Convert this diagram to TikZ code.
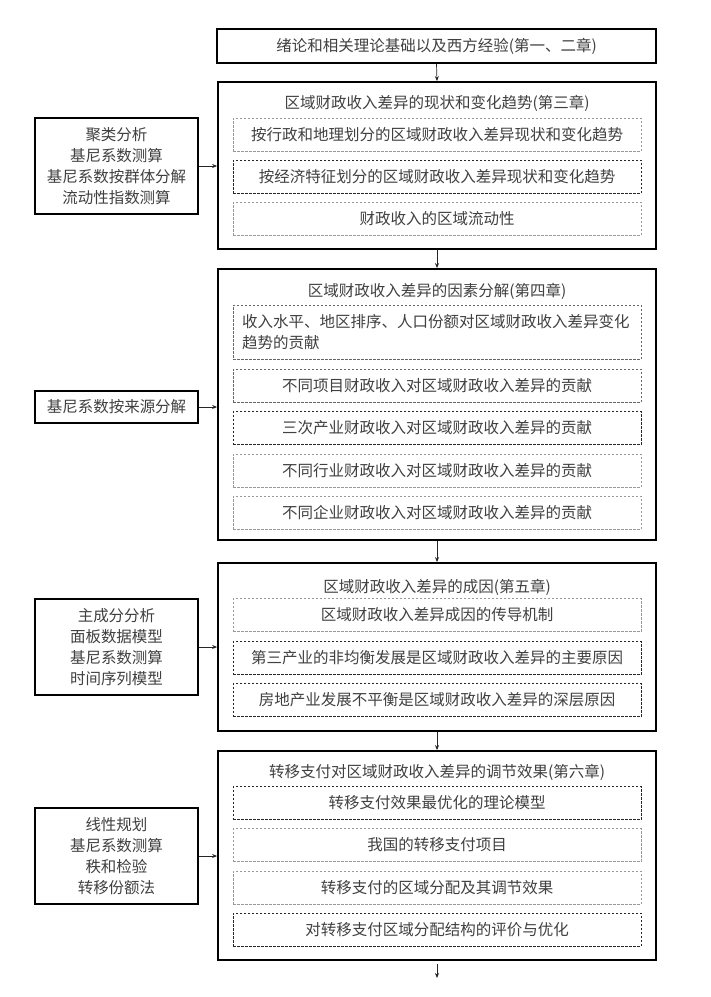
\documentclass[tikz,border=0pt]{standalone}
\usepackage{fontspec}
\setmainfont{Noto Sans CJK SC}
\usetikzlibrary{arrows.meta}
\begin{document}
\begin{tikzpicture}[x=1pt,y=-1pt,
  every node/.style={font=\fontsize{15.5}{21}\selectfont, text=black!75, inner sep=0pt, align=center},
  bigbox/.style={draw=black, line width=1.8pt, minimum width=438pt},
  sidebox/.style={draw=black, line width=1.8pt, minimum width=163pt},
  dbox/.style={draw=black!40, dash pattern=on 2.5pt off 1.5pt, line width=0.8pt, minimum width=408pt, minimum height=33pt},
  dboxk/.style={dbox, draw=black!85},
  dboxm/.style={dbox, draw=black!60},
  arr/.style={-{Stealth[length=5pt,width=4pt]}, line width=0.7pt, draw=black!85},
]
\fill[white] (0,0) rectangle (711,997);
\useasboundingbox (0,0) rectangle (711,997);

% top
\node[bigbox, minimum width=439pt, minimum height=34pt] (top) at (436.5,46) {绪论和相关理论基础以及西方经验(第一、二章)};

% chapter 3
\node[bigbox, minimum height=167pt] (ch3) at (437,165.5) {};
\node (t3) at (437,103) {区域财政收入差异的现状和变化趋势(第三章)};
\node[dbox] (c31) at (437,134.5) {按行政和地理划分的区域财政收入差异现状和变化趋势};
\node[dboxk] (c32) at (437,176.5) {按经济特征划分的区域财政收入差异现状和变化趋势};
\node[dbox] (c33) at (437,218.5) {财政收入的区域流动性};
\node[sidebox, minimum height=96pt] (m3) at (116.5,166) {聚类分析\\基尼系数测算\\基尼系数按群体分解\\流动性指数测算};

% chapter 4
\node[bigbox, minimum height=271pt] (ch4) at (437,404.5) {};
\node (t4) at (437,291) {区域财政收入差异的因素分解(第四章)};
\node[dboxm, minimum height=54pt, text width=390pt, inner xsep=9pt, align=left] (c41) at (437,332) {收入水平、地区排序、人口份额对区域财政收入差异变化\\趋势的贡献};
\node[dboxm] (c42) at (437,385.5) {不同项目财政收入对区域财政收入差异的贡献};
\node[dboxk] (c43) at (437,428) {三次产业财政收入对区域财政收入差异的贡献};
\node[dbox] (c44) at (437,470.5) {不同行业财政收入对区域财政收入差异的贡献};
\node[dbox] (c45) at (437,512.5) {不同企业财政收入对区域财政收入差异的贡献};
\node[sidebox, minimum height=32pt] (m4) at (116.5,407) {基尼系数按来源分解};

% chapter 5
\node[bigbox, minimum height=168pt] (ch5) at (437,647) {};
\node (t5) at (437,587) {区域财政收入差异的成因(第五章)};
\node[dbox] (c51) at (437,615) {区域财政收入差异成因的传导机制};
\node[dboxk] (c52) at (437,658) {第三产业的非均衡发展是区域财政收入差异的主要原因};
\node[dboxk] (c53) at (437,700) {房地产业发展不平衡是区域财政收入差异的深层原因};
\node[sidebox, minimum height=96pt] (m5) at (116.5,647) {主成分分析\\面板数据模型\\基尼系数测算\\时间序列模型};

% chapter 6
\node[bigbox, minimum height=209pt] (ch6) at (437,855.5) {};
\node (t6) at (437,772) {转移支付对区域财政收入差异的调节效果(第六章)};
\node[dboxk] (c61) at (437,803) {转移支付效果最优化的理论模型};
\node[dbox] (c62) at (437,845) {我国的转移支付项目};
\node[dbox] (c63) at (437,887.5) {转移支付的区域分配及其调节效果};
\node[dboxk] (c64) at (437,929.5) {对转移支付区域分配结构的评价与优化};
\node[sidebox, minimum height=96pt] (m6) at (116.5,856) {线性规划\\基尼系数测算\\秩和检验\\转移份额法};

\coordinate (fin) at (437,978);

% connectors
\draw[arr] (top.south) -- (ch3.north);
\draw[arr] (ch3.south) -- (ch4.north);
\draw[arr] (ch4.south) -- (ch5.north);
\draw[arr] (ch5.south) -- (ch6.north);
\draw[arr, shorten <=3pt] (ch6.south) -- (fin);
\draw[arr] (m3.east) -- (m3.east -| ch3.west);
\draw[arr] (m4.east) -- (m4.east -| ch4.west);
\draw[arr] (m5.east) -- (m5.east -| ch5.west);
\draw[arr] (m6.east) -- (m6.east -| ch6.west);
\end{tikzpicture}
\end{document}
